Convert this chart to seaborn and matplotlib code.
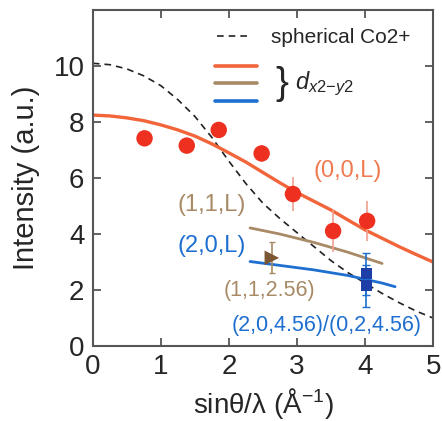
import numpy as np
import pandas as pd
import matplotlib
matplotlib.use("Agg")
import matplotlib.pyplot as plt
import seaborn as sns
from matplotlib.lines import Line2D

# --- data ---
# (0,0,L) measured points
q00 = [0.76, 1.38, 1.85, 2.48, 2.94, 3.53, 4.03]
i00 = [7.42, 7.16, 7.72, 6.88, 5.43, 4.11, 4.47]
e00 = [0.25, 0.25, 0.25, 0.3, 0.62, 0.75, 0.7]

# (1,1,2.56) point and (2,0,4.56)/(0,2,4.56) points
q11 = [2.63]
i11 = [3.15]
e11 = [0.55]
q20 = [4.02, 4.02]
i20 = [2.58, 2.15]
e20 = [0.75, 0.75]

# model curves
x_sph = [0, 0.25, 0.5, 0.75, 1, 1.25, 1.5, 1.75, 2, 2.25, 2.5, 2.75, 3, 3.25,
         3.5, 3.75, 4, 4.25, 4.5, 4.75, 5]
y_sph = [10.1, 10.05, 9.9, 9.65, 9.3, 8.8, 8.2, 7.45, 6.6, 5.8, 5.1, 4.55, 4.05,
         3.55, 3.05, 2.62, 2.25, 1.88, 1.55, 1.25, 1.0]
x_00L = [0, 0.25, 0.5, 0.75, 1, 1.25, 1.5, 1.75, 2, 2.25, 2.5, 2.75, 3, 3.25,
         3.5, 3.75, 4, 4.25, 4.5, 4.75, 5]
y_00L = [8.25, 8.22, 8.15, 8.05, 7.9, 7.72, 7.5, 7.22, 6.9, 6.57, 6.2, 5.83,
         5.48, 5.17, 4.86, 4.5, 4.15, 3.85, 3.55, 3.27, 3.0]
x_11L = [2.31, 2.75, 3.25, 3.75, 4.25]
y_11L = [4.22, 4.0, 3.7, 3.35, 2.95]
x_20L = [2.31, 2.75, 3.25, 3.75, 4.25, 4.44]
y_20L = [3.02, 2.88, 2.72, 2.52, 2.25, 2.12]

c_red = "#ee3020"
c_redline = "#f2643a"
c_brown = "#a88a66"
c_brown_dark = "#7a5632"
c_blue = "#1e6fd0"
c_blue_dark = "#1e3fa8"

sns.set_style("ticks")
plt.rcParams["font.family"] = ["Liberation Sans", "DejaVu Sans"]
plt.rcParams["mathtext.fontset"] = "custom"
plt.rcParams["mathtext.it"] = "Liberation Sans:italic"
plt.rcParams["mathtext.rm"] = "Liberation Sans"

fig = plt.figure(figsize=(4.42, 4.21), dpi=100)
ax = fig.add_axes([0.21, 0.178, 0.77, 0.798])

curves = pd.concat([
    pd.DataFrame({"q": x_sph, "I": y_sph, "set": "sph"}),
    pd.DataFrame({"q": x_00L, "I": y_00L, "set": "00L"}),
    pd.DataFrame({"q": x_11L, "I": y_11L, "set": "11L"}),
    pd.DataFrame({"q": x_20L, "I": y_20L, "set": "20L"}),
])
sns.lineplot(data=curves[curves["set"] == "sph"], x="q", y="I", ax=ax,
             color="#222222", lw=1.2, linestyle=(0, (4, 3)))
sns.lineplot(data=curves[curves["set"] == "00L"], x="q", y="I", ax=ax,
             color=c_redline, lw=2.4)
sns.lineplot(data=curves[curves["set"] == "11L"], x="q", y="I", ax=ax,
             color=c_brown, lw=2.0)
sns.lineplot(data=curves[curves["set"] == "20L"], x="q", y="I", ax=ax,
             color=c_blue, lw=2.0)

# error bars
ax.errorbar(q00, i00, yerr=e00, fmt="none", ecolor="#f4a090", elinewidth=1.2, zorder=3)
ax.errorbar(q11, i11, yerr=e11, fmt="none", ecolor=c_brown, elinewidth=1.2,
            capsize=2, zorder=3)
ax.errorbar(q20, i20, yerr=e20, fmt="none", ecolor=c_blue, elinewidth=1.2,
            capsize=3, zorder=3)

sns.scatterplot(x=q00, y=i00, ax=ax, color=c_red, s=140, edgecolor="none", zorder=4)
sns.scatterplot(x=q11, y=i11, ax=ax, color=c_brown_dark, marker=">", s=110,
                edgecolor="none", zorder=4)
sns.scatterplot(x=q20, y=i20, ax=ax, color=c_blue_dark, marker="s", s=60,
                edgecolor="none", zorder=4)

# labels on the curves
ax.text(3.74, 6.24, "(0,0,L)", color="#f07a50", fontsize=17, ha="center", va="center")
ax.text(1.75, 5.03, "(1,1,L)", color=c_brown, fontsize=17, ha="center", va="center")
ax.text(1.75, 3.58, "(2,0,L)", color=c_blue, fontsize=17, ha="center", va="center")
ax.text(2.59, 1.99, "(1,1,2.56)", color=c_brown, fontsize=15.5, ha="center", va="center")
ax.text(3.44, 0.74, "(2,0,4.56)/(0,2,4.56)", color=c_blue, fontsize=15.5,
        ha="center", va="center")

# legend: spherical ion
leg1 = ax.legend(handles=[Line2D([], [], color="#222222", lw=1.2, linestyle=(0, (4, 3)))],
                 labels=["spherical Co2+"], loc="center left",
                 bbox_to_anchor=(0.365, 0.917), frameon=False, fontsize=15,
                 handlelength=1.6, handletextpad=1.0, borderpad=0, borderaxespad=0)
ax.add_artist(leg1)
# legend: dx2-y2 curves
ax.legend(handles=[Line2D([], [], color=c, lw=2.6) for c in (c_redline, c_brown, c_blue)],
          labels=["", "", ""], loc="center left", bbox_to_anchor=(0.359, 0.78),
          frameon=False, fontsize=10, handlelength=3.0, handletextpad=0,
          labelspacing=0.25, borderpad=0, borderaxespad=0)
ax.text(0.556, 0.78, "}", transform=ax.transAxes, fontsize=28, ha="center",
        va="center", fontweight="light")
ax.text(0.595, 0.78, r"$d_{x2\mathrm{-}y2}$", transform=ax.transAxes, fontsize=17,
        ha="left", va="center")

ax.set_xlim(0, 5)
ax.set_ylim(0, 12)
ax.set_xticks([0, 1, 2, 3, 4, 5])
ax.set_yticks([0, 2, 4, 6, 8, 10])
ax.tick_params(direction="in", top=True, right=True, labelsize=20, length=6,
               width=1.3, color="#555555", pad=6)
for s in ax.spines.values():
    s.set_color("#555555")
    s.set_linewidth(1.5)
    s.set_visible(True)
ax.set_xlabel(r"sinθ/λ (Å$^{-1}$)", fontsize=20, labelpad=4)
ax.set_ylabel("Intensity (a.u.)", fontsize=21, labelpad=10)

fig.savefig("out.png", dpi=100)
